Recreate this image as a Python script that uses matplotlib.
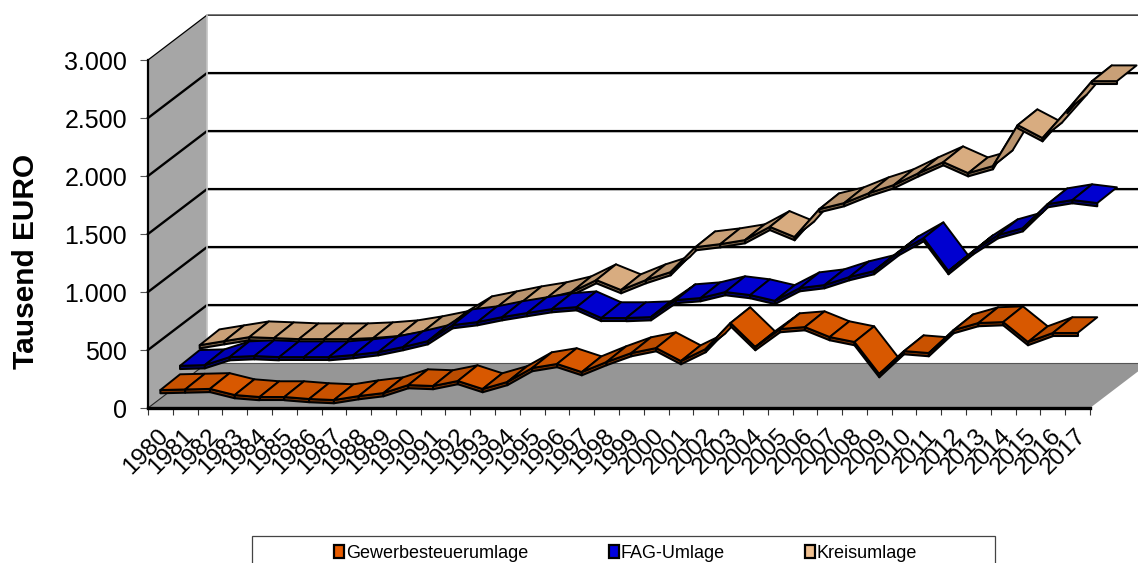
import matplotlib
matplotlib.use("Agg")
import matplotlib.pyplot as plt
from matplotlib.patches import Polygon, Patch, Rectangle
from matplotlib.colors import to_rgb
from matplotlib.transforms import ScaledTranslation

plt.rcParams['font.family'] = ['Liberation Sans', 'DejaVu Sans']

years = [str(y) for y in range(1980, 2018)]
gewerbe = [155, 160, 165, 112, 95, 95, 78, 69, 103, 129, 198, 190, 233, 164, 225, 345, 380, 310, 397,
           474, 517, 405, 509, 733, 526, 681, 698, 612, 569, 293, 491, 474, 672, 733, 741, 569, 647, 647]
fag = [235, 241, 310, 319, 310, 310, 310, 328, 353, 397, 448, 586, 612, 655, 690, 724, 741, 647, 647,
       655, 802, 819, 871, 845, 795, 905, 931, 1000, 1052, 1216, 1336, 1052, 1224, 1362, 1422, 1629, 1664, 1638]
kreis = [284, 319, 353, 345, 336, 336, 336, 345, 362, 397, 440, 569, 612, 655, 690, 741, 845, 759, 845,
         914, 1129, 1155, 1190, 1304, 1216, 1457, 1509, 1595, 1664, 1767, 1862, 1767, 1828, 2181, 2069, 2310, 2560, 2560]
series_names = ['Gewerbesteuerumlage', 'FAG-Umlage', 'Kreisumlage']
series_values = [gewerbe, fag, kreis]
series_colors = ['#D85800', '#0000D0', '#D8AC80']
y_ticks = [0, 500, 1000, 1500, 2000, 2500, 3000]
y_labels = ['0', '500', '1.000', '1.500', '2.000', '2.500', '3.000']

W, H = 1138, 563
DX, DY = 0.793, 129.0      # one depth slot, in category / value units
SLAB = 28
fig = plt.figure(figsize=(W / 100, H / 100), dpi=100)
ax = fig.add_axes([148 / W, 1 - 408 / H, 942 / W, 348 / H])
ax.set_xlim(-0.5, 37.5)
ax.set_ylim(0, 3000)
ax.patch.set_visible(False)
for s in ['top', 'right']:
    ax.spines[s].set_visible(False)
ax.spines['left'].set_linewidth(1.6)
ax.spines['bottom'].set_linewidth(2.4)
ax.spines['left'].set_zorder(3)
ax.spines['bottom'].set_zorder(3)

n = len(years)
xl, xr = -0.5, n - 0.5
back_x, back_y = 3 * DX, 3 * DY


def poly(pts, fc, ec='none', lw=0, z=1):
    ax.add_patch(Polygon(pts, closed=True, facecolor=fc, edgecolor=ec, linewidth=lw,
                         joinstyle='round', clip_on=False, zorder=z))


# side wall and floor
poly([(xl, 0), (xl + back_x, back_y), (xl + back_x, 3000 + back_y), (xl, 3000)], '#A6A6A6', z=1)
poly([(xl, 0), (xr, 0), (xr + back_x, back_y), (xl + back_x, back_y)], '#969696', z=1)

# grid
for t in y_ticks[1:]:
    ax.plot([xl, xl + back_x, xr + back_x], [t, t + back_y, t + back_y], color='black',
            lw=1.7 if t < 3000 else 0.9, clip_on=False, zorder=2, solid_joinstyle='miter')
ax.plot([xl, xl + back_x], [0, back_y], color='#222222', lw=0.8, clip_on=False, zorder=2)
ax.plot([xl + back_x, xr + back_x], [back_y, back_y], color='#555555', lw=0.8, clip_on=False, zorder=2)
ax.plot([xl + back_x] * 2, [back_y, 3000 + back_y], color='#C4C4C4', lw=1.2, clip_on=False, zorder=2)


def shade(color, f):
    return tuple(c * f for c in to_rgb(color))


# ribbons, back to front
z = 10
for k in (2, 1, 0):
    vals = series_values[k]
    col = series_colors[k]
    dx0, dy0 = k * DX, k * DY
    for i in range(n - 1):
        x0, x1 = i + dx0, i + 1 + dx0
        v0, v1 = vals[i] + dy0, vals[i + 1] + dy0
        rise = vals[i + 1] - vals[i]
        f = 1.0 if rise < -20 else (0.93 if rise < 40 else 0.86)
        top = [(x0, v0), (x1, v1), (x1 + DX, v1 + DY * 1.05), (x0 + DX, v0 + DY * 1.05)]
        slab = [(x0, v0), (x1, v1), (x1, v1 - SLAB), (x0, v0 - SLAB)]
        poly(slab, shade(col, 0.55), 'black', 1.5, z)
        z += 1
        poly(top, shade(col, f), 'black', 1.4, z)
        z += 1

# ticks and labels
ax.set_yticks(y_ticks, y_labels, fontsize=18)
ax.tick_params(axis='y', length=6, width=0.8, color='#555555', pad=9)
ax.set_xticks(range(n), years, rotation=45, ha='right', va='top', rotation_mode='anchor', fontsize=17.5)
ax.tick_params(axis='x', which='major', length=0, pad=10)
ax.set_xticks([-0.5 + i for i in range(n + 1)], minor=True)
ax.tick_params(axis='x', which='minor', length=5, width=0.8, color='#333333')
shift = ScaledTranslation(-3 / 100, -3 / 100, fig.dpi_scale_trans)
for lab in ax.get_xticklabels():
    lab.set_transform(lab.get_transform() + shift)
ax.set_ylabel('Tausend EURO', fontsize=21.5, fontweight='bold', labelpad=0)
ax.yaxis.set_label_coords((40 - 148) / 942, 0.42)

# legend: frame runs past the lower edge of the figure, as in the reference
fig.add_artist(Rectangle((252 / W, -0.02), (995 - 252) / W, (563 - 536) / H + 0.02, transform=fig.transFigure,
                         facecolor='white', edgecolor='#444444', linewidth=0.9))
handles = [Patch(facecolor=c, edgecolor='black', linewidth=1.6) for c in ['#E85C00', '#0000E0', '#F0C090']]
fig.legend(handles, series_names, loc='center left', bbox_to_anchor=(320 / W, 1 - 553 / H), ncol=3,
           frameon=False, fontsize=13, handlelength=0.55, handleheight=0.7, handletextpad=0.1,
           columnspacing=4.45, borderpad=0.8, borderaxespad=0)

fig.savefig('out.png', dpi=100)
